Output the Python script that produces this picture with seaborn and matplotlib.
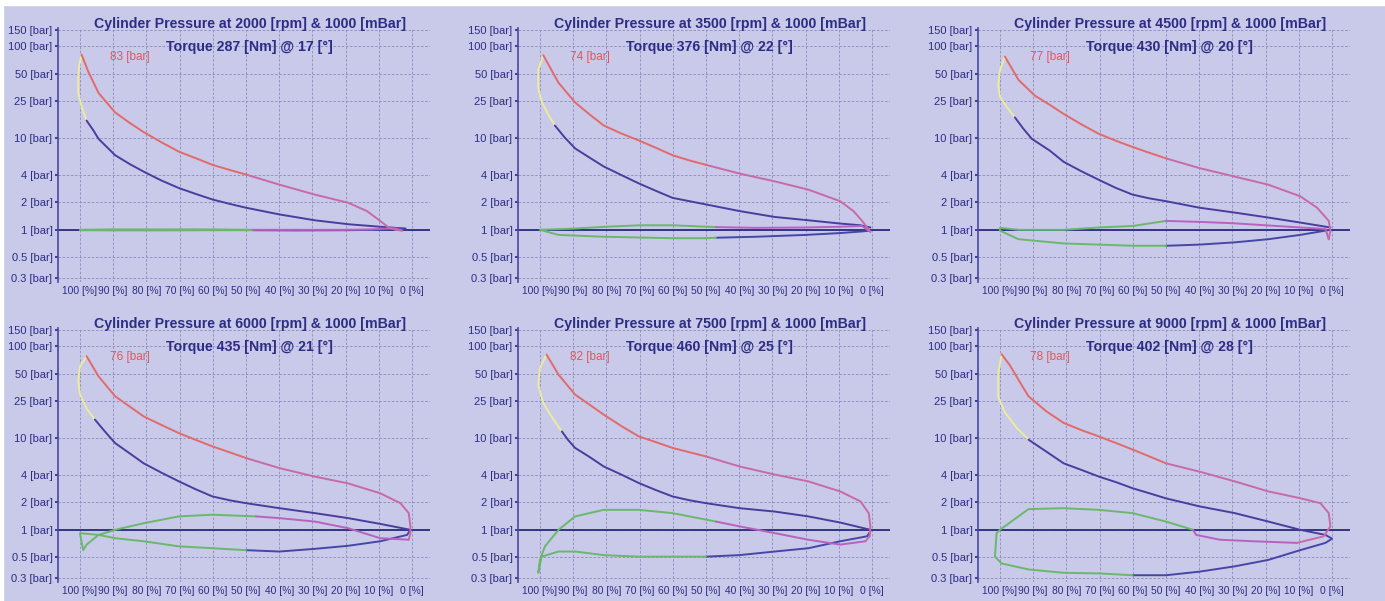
import matplotlib
matplotlib.use("Agg")
import matplotlib.pyplot as plt
from matplotlib.ticker import NullLocator, FixedLocator
import pandas as pd
import seaborn as sns

sns.set_theme(style="white")
plt.rcParams["font.family"] = ["Liberation Sans", "DejaVu Sans"]

# ---------------- data ----------------
rpm = [2000, 3500, 4500, 6000, 7500, 9000]
torque = [287, 376, 430, 435, 460, 402]
angle = [17, 22, 20, 21, 25, 28]
peak = [83, 74, 77, 76, 82, 78]

y_ticks = [0.3, 0.5, 1, 2, 4, 10, 25, 50, 100, 150]
y_tick_labels = ["0.3 [bar]", "0.5 [bar]", "1 [bar]", "2 [bar]", "4 [bar]", "10 [bar]",
                 "25 [bar]", "50 [bar]", "100 [bar]", "150 [bar]"]
x_ticks = [100, 90, 80, 70, 60, 50, 40, 30, 20, 10, 0]
x_tick_labels = ["100 [%]", "90 [%]", "80 [%]", "70 [%]", "60 [%]", "50 [%]",
                 "40 [%]", "30 [%]", "20 [%]", "10 [%]", "0 [%]"]

# Panel 1 (2000 rpm)
p1_exp_x = [99.5, 97.5, 94.4, 89.4, 85.0, 80.8, 75.5, 70.2, 65.0, 60.1, 55.0, 50.0]
p1_exp_y = [81, 53, 31, 19, 14.6, 11.6, 9.0, 7.1, 6.0, 5.1, 4.5, 4.0]
p1_exp2_x = [50.0, 39.9, 29.3, 19.2, 13.6, 9.6, 7.1, 5.0, 3.0]
p1_exp2_y = [4.0, 3.1, 2.42, 1.97, 1.6, 1.25, 1.06, 1.0, 0.98]
p1_exh_x = [3.0, 5, 8, 12, 20, 35, 48]
p1_exh_y = [0.98, 1.04, 1.03, 1.01, 1.0, 1.0, 1.0]
p1_gas_x = [48, 60, 75, 90, 100, 100, 90, 75, 60, 48]
p1_gas_y = [1.0, 1.01, 1.01, 1.01, 1.0, 0.99, 0.985, 0.985, 0.99, 0.99]
p1_low_x = [48, 35, 20, 10, 5, 2]
p1_low_y = [0.99, 0.985, 0.99, 1.0, 1.02, 1.03]
p1_comp_x = [2, 3.5, 9.6, 19.2, 29.3, 39.9, 50.0, 55.0, 60.1, 65.0, 70.2, 75.5, 80.8, 85.0, 89.4, 94.4, 96.0, 98.0]
p1_comp_y = [1.03, 1.04, 1.08, 1.15, 1.27, 1.47, 1.74, 1.92, 2.14, 2.45, 2.85, 3.45, 4.3, 5.2, 6.5, 9.8, 12.2, 15.5]
p1_comb_x = [98.0, 99.5, 100.5, 100.5, 100.2, 99.5]
p1_comb_y = [15.5, 22, 31, 45, 62, 81]

# Panel 2 (3500 rpm)
p2_exp_x = [99.0, 94.4, 89.4, 85.0, 80.8, 75.5, 70.2, 65.0, 60.1, 55.0, 50.0]
p2_exp_y = [80, 40, 24.4, 18, 13.7, 11.2, 9.4, 7.8, 6.5, 5.7, 5.1]
p2_exp2_x = [50.0, 39.9, 29.3, 19.2, 9.6, 5.6, 3.0, 1.5, 0.5]
p2_exp2_y = [5.1, 4.1, 3.37, 2.74, 2.05, 1.6, 1.25, 1.06, 0.95]
p2_exh_x = [0.5, 3, 10, 20, 35, 47]
p2_exh_y = [0.95, 1.1, 1.08, 1.06, 1.05, 1.07]
p2_gas_x = [47, 60, 70, 80, 90, 100, 94.4, 80.8, 60.1, 50, 47]
p2_gas_y = [1.07, 1.12, 1.12, 1.08, 1.03, 1.0, 0.88, 0.84, 0.81, 0.81, 0.82]
p2_low_x = [47, 35, 20, 10, 3, 0.5]
p2_low_y = [0.82, 0.84, 0.88, 0.92, 0.96, 0.98]
p2_comp_x = [0.5, 3.5, 9.6, 19.2, 29.3, 39.9, 50.0, 55.0, 60.1, 65.0, 70.2, 75.5, 80.8, 85.0, 89.4, 92.5, 95.5]
p2_comp_y = [1.06, 1.12, 1.17, 1.27, 1.38, 1.6, 1.89, 2.05, 2.23, 2.65, 3.2, 3.95, 4.9, 6.1, 7.7, 10.1, 13.7]
p2_comb_x = [95.5, 97.5, 99.5, 100.5, 100.5, 99.0]
p2_comb_y = [13.7, 18, 25, 35, 55, 80]

# Panel 3 (4500 rpm)
p3_exp_x = [98.5, 94.4, 89.4, 85.0, 80.8, 75.5, 70.2, 65.0, 60.1, 55.0, 50.0]
p3_exp_y = [77, 43, 28.8, 23, 18.3, 14.1, 11.1, 9.3, 8.0, 6.9, 6.0]
p3_exp2_x = [50.0, 39.9, 29.3, 19.2, 9.6, 4.5, 1.0, 0.5, 1.0]
p3_exp2_y = [6.0, 4.7, 3.8, 3.1, 2.32, 1.74, 1.25, 0.98, 0.79]
p3_exh_x = [1.0, 2, 9.6, 20, 30, 40, 50]
p3_exh_y = [0.79, 1.02, 1.06, 1.12, 1.18, 1.22, 1.25]
p3_gas_x = [50, 60.1, 70.2, 80.8, 94.4, 100, 100, 94.4, 80.8, 70.2, 60.1, 50]
p3_gas_y = [1.25, 1.10, 1.06, 1.0, 1.0, 1.05, 0.98, 0.79, 0.71, 0.69, 0.67, 0.67]
p3_low_x = [50, 39.9, 29.3, 19.2, 9.6, 0.5]
p3_low_y = [0.67, 0.69, 0.73, 0.79, 0.88, 1.0]
p3_comp_x = [0.5, 9.6, 19.2, 29.3, 39.9, 50.0, 55.0, 60.1, 65.0, 70.2, 75.5, 80.8, 85.0, 90.4, 93.0, 95.5]
p3_comp_y = [1.06, 1.2, 1.36, 1.54, 1.74, 2.05, 2.2, 2.42, 2.85, 3.5, 4.35, 5.5, 7.3, 9.8, 12.7, 16.8]
p3_comb_x = [95.5, 98, 100, 100.5, 100, 98.5]
p3_comb_y = [16.8, 22, 28, 38, 55, 77]

# Panel 4 (6000 rpm)
p4_exp_x = [98, 94.4, 89.4, 85.0, 80.8, 75.5, 70.2, 65.0, 60.1, 55.0, 50]
p4_exp_y = [78, 47, 28.5, 22, 17.2, 13.9, 11.3, 9.5, 8.1, 7.0, 6.05]
p4_exp2_x = [50, 39.9, 29.3, 19.2, 9.6, 3.5, 1.0, 0.5, 0.5, 1.0]
p4_exp2_y = [6.05, 4.7, 3.8, 3.2, 2.5, 1.95, 1.52, 1.09, 0.92, 0.78]
p4_exh_x = [1.0, 9.6, 19.2, 29.3, 39.9, 47]
p4_exh_y = [0.78, 0.81, 1.04, 1.23, 1.34, 1.4]
p4_gas_x = [47, 60.1, 70.2, 80.8, 89.4, 94.4, 98, 99, 100, 94.4, 89.4, 80.8, 70.2, 60.1, 50]
p4_gas_y = [1.4, 1.46, 1.40, 1.18, 1.0, 0.88, 0.69, 0.6, 0.92, 0.88, 0.81, 0.75, 0.66, 0.63, 0.6]
p4_low_x = [50, 39.9, 29.3, 19.2, 9.6, 1.5, 0.5]
p4_low_y = [0.6, 0.58, 0.62, 0.67, 0.75, 0.88, 1.0]
p4_comp_x = [0.5, 9.6, 19.2, 29.3, 39.9, 50, 55.0, 60.1, 65.0, 70.2, 75.5, 80.8, 85.0, 89.4, 92.5, 95.5]
p4_comp_y = [1.0, 1.16, 1.34, 1.52, 1.72, 1.95, 2.1, 2.31, 2.75, 3.37, 4.2, 5.3, 6.8, 8.8, 11.8, 15.9]
p4_comb_x = [95.5, 98, 100, 100.5, 100, 98]
p4_comb_y = [15.9, 21, 30, 42, 60, 78]

# Panel 5 (7500 rpm)
p5_exp_x = [98, 94.4, 89.4, 85.0, 80.8, 75.5, 70.2, 65.0, 60.1, 55.0, 50]
p5_exp_y = [81, 49, 29.7, 23, 18, 13.5, 10.4, 9.0, 7.8, 7.0, 6.3]
p5_exp2_x = [50, 39.9, 29.3, 19.2, 9.6, 3.5, 1.0, 0.5, 0.7, 2.0]
p5_exp2_y = [6.3, 4.9, 4.0, 3.37, 2.62, 2.04, 1.52, 1.09, 0.85, 0.75]
p5_exh_x = [2.0, 9.6, 19.2, 29.3, 39.9, 47]
p5_exh_y = [0.75, 0.69, 0.78, 0.92, 1.09, 1.23]
p5_gas_x = [47, 60.1, 70.2, 80.8, 89.4, 94.4, 98.5, 100, 100.5, 99.5, 94.4, 89.4, 80.8, 70.2, 60.1, 50]
p5_gas_y = [1.23, 1.52, 1.65, 1.65, 1.4, 1.0, 0.66, 0.47, 0.34, 0.51, 0.58, 0.58, 0.53, 0.51, 0.51, 0.51]
p5_low_x = [50, 39.9, 29.3, 19.2, 9.6, 1.5, 0.5]
p5_low_y = [0.51, 0.53, 0.58, 0.63, 0.75, 0.85, 0.96]
p5_comp_x = [0.5, 9.6, 19.2, 29.3, 39.9, 50, 55.0, 60.1, 65.0, 70.2, 75.5, 80.8, 85.0, 89.4, 91.5, 93.4]
p5_comp_y = [1.0, 1.2, 1.4, 1.58, 1.72, 1.95, 2.1, 2.31, 2.7, 3.23, 4.0, 4.9, 6.2, 7.8, 9.5, 11.8]
p5_comb_x = [93.4, 96, 99, 100.5, 100, 98]
p5_comb_y = [11.8, 16, 24, 38, 58, 81]

# Panel 6 (9000 rpm)
p6_exp_x = [99.5, 97, 94.4, 91.4, 86.0, 80.8, 75.5, 70.2, 65.0, 60.1, 55.0, 50]
p6_exp_y = [82, 62, 43, 28.5, 19.5, 14.6, 12.2, 10.4, 8.8, 7.5, 6.3, 5.3]
p6_exp2_x = [50, 39.9, 29.3, 19.2, 9.6, 3.5, 1.0, 0.5, 2.5, 10.6]
p6_exp2_y = [5.3, 4.3, 3.37, 2.62, 2.21, 1.95, 1.52, 1.09, 0.85, 0.72]
p6_exh_x = [10.6, 23.7, 33.8, 40.9, 41.9]
p6_exh_y = [0.72, 0.75, 0.78, 0.88, 1.0]
p6_gas_x = [41.9, 50, 60.1, 70.2, 80.8, 91.4, 100, 101, 101.5, 99.5, 91.4, 80.8, 70.2, 60.1]
p6_gas_y = [1.0, 1.23, 1.52, 1.65, 1.72, 1.68, 1.0, 0.92, 0.51, 0.43, 0.37, 0.34, 0.335, 0.32]
p6_low_x = [60.1, 50, 39.9, 29.3, 19.2, 9.6, 2.0, 0.0, 2.0]
p6_low_y = [0.32, 0.32, 0.35, 0.40, 0.47, 0.60, 0.72, 0.8, 0.88]
p6_comp_x = [2.0, 9.6, 19.2, 29.3, 39.9, 50, 55.0, 60.1, 65.0, 70.2, 75.5, 80.8, 86.0, 91.4]
p6_comp_y = [0.88, 1.0, 1.23, 1.52, 1.8, 2.2, 2.5, 2.84, 3.3, 3.8, 4.5, 5.3, 7.1, 9.6]
p6_comb_x = [91.4, 95, 98.5, 100.5, 100.5, 99.5]
p6_comb_y = [9.6, 13, 19, 28, 50, 82]

panels = [
    {"exp": (p1_exp_x, p1_exp_y), "exp2": (p1_exp2_x, p1_exp2_y), "exh": (p1_exh_x, p1_exh_y),
     "gas": (p1_gas_x, p1_gas_y), "low": (p1_low_x, p1_low_y), "comp": (p1_comp_x, p1_comp_y),
     "comb": (p1_comb_x, p1_comb_y)},
    {"exp": (p2_exp_x, p2_exp_y), "exp2": (p2_exp2_x, p2_exp2_y), "exh": (p2_exh_x, p2_exh_y),
     "gas": (p2_gas_x, p2_gas_y), "low": (p2_low_x, p2_low_y), "comp": (p2_comp_x, p2_comp_y),
     "comb": (p2_comb_x, p2_comb_y)},
    {"exp": (p3_exp_x, p3_exp_y), "exp2": (p3_exp2_x, p3_exp2_y), "exh": (p3_exh_x, p3_exh_y),
     "gas": (p3_gas_x, p3_gas_y), "low": (p3_low_x, p3_low_y), "comp": (p3_comp_x, p3_comp_y),
     "comb": (p3_comb_x, p3_comb_y)},
    {"exp": (p4_exp_x, p4_exp_y), "exp2": (p4_exp2_x, p4_exp2_y), "exh": (p4_exh_x, p4_exh_y),
     "gas": (p4_gas_x, p4_gas_y), "low": (p4_low_x, p4_low_y), "comp": (p4_comp_x, p4_comp_y),
     "comb": (p4_comb_x, p4_comb_y)},
    {"exp": (p5_exp_x, p5_exp_y), "exp2": (p5_exp2_x, p5_exp2_y), "exh": (p5_exh_x, p5_exh_y),
     "gas": (p5_gas_x, p5_gas_y), "low": (p5_low_x, p5_low_y), "comp": (p5_comp_x, p5_comp_y),
     "comb": (p5_comb_x, p5_comb_y)},
    {"exp": (p6_exp_x, p6_exp_y), "exp2": (p6_exp2_x, p6_exp2_y), "exh": (p6_exh_x, p6_exh_y),
     "gas": (p6_gas_x, p6_gas_y), "low": (p6_low_x, p6_low_y), "comp": (p6_comp_x, p6_comp_y),
     "comb": (p6_comb_x, p6_comb_y)},
]

# ---------------- style ----------------
BG = "#c9c9e9"
NAVY = "#2d2d86"
seg_colors = {"comb": "#ecec9c", "comp": "#4b3d9e", "low": "#4646a6", "gas": "#6ab86a",
              "exh": "#b862c0", "exp2": "#c86aa8", "exp": "#e26a6a"}
seg_order = ["comb", "comp", "low", "gas", "exh", "exp2", "exp"]

W, H = 1385, 601
fig = plt.figure(figsize=(W / 100, H / 100), dpi=100, facecolor=BG)
fig.add_artist(plt.Rectangle((0, 1 - 5 / H), 1, 5 / H, transform=fig.transFigure,
                             color="white", zorder=0))
fig.add_artist(plt.Rectangle((0, 0), 3 / W, 1, transform=fig.transFigure,
                             color="white", zorder=0))

col_left = [58, 518, 978]
row_top = [28, 328]
ax_w, ax_h = 372, 254

for i, segs in enumerate(panels):
    r, c = divmod(i, 3)
    l = col_left[c] / W
    b = (H - row_top[r] - ax_h) / H
    ax = fig.add_axes([l, b, ax_w / W, ax_h / H])
    ax.set_facecolor(BG)

    rows = []
    for name in seg_order:
        xs, ys = segs[name]
        for k, (xv, yv) in enumerate(zip(xs, ys)):
            rows.append({"seg": name, "x": xv, "p": yv, "k": k})
    df = pd.DataFrame(rows)

    ax.set_yscale("log")
    ax.axhline(1, color="#2a2a80", lw=1.3, zorder=1.5)
    sns.lineplot(data=df, x="x", y="p", hue="seg", units="seg", estimator=None, sort=False,
                 palette=seg_colors, hue_order=seg_order, legend=False, lw=1.4, ax=ax, zorder=2)

    ax.set_xlim(106.6, -5.4)
    ax.set_ylim(0.27, 158)
    ax.yaxis.set_major_locator(FixedLocator(y_ticks))
    ax.yaxis.set_minor_locator(NullLocator())
    ax.set_yticklabels(y_tick_labels)
    ax.set_xticks(x_ticks)
    ax.set_xticklabels(x_tick_labels)
    ax.set_xlabel("")
    ax.set_ylabel("")
    ax.grid(True, which="major", color="#8a8abf", lw=0.6, ls=(0, (3, 2)))
    ax.set_axisbelow(True)

    for s in ["top", "right", "bottom"]:
        ax.spines[s].set_visible(False)
    ax.spines["left"].set_color("#4848a0")
    ax.spines["left"].set_linewidth(1.2)

    ax.tick_params(axis="x", length=0, pad=3, labelsize=7.4, colors=NAVY)
    ax.tick_params(axis="y", length=2, pad=2, labelsize=8, colors=NAVY, left=True)

    ax.text(0.515, 1.016, f"Cylinder Pressure at {rpm[i]} [rpm] & 1000 [mBar]",
            transform=ax.transAxes, ha="center", va="center", fontsize=10.2,
            fontweight="bold", color=NAVY)
    ax.text(0.515, 0.925, f"Torque {torque[i]} [Nm] @ {angle[i]} [°]",
            transform=ax.transAxes, ha="center", va="center", fontsize=10.2,
            fontweight="bold", color=NAVY)
    ax.text(0.194, 0.886, f"{peak[i]} [bar]", transform=ax.transAxes, ha="center",
            va="center", fontsize=8.5, color="#e05858")

fig.savefig("out.png", dpi=100, facecolor=BG)
